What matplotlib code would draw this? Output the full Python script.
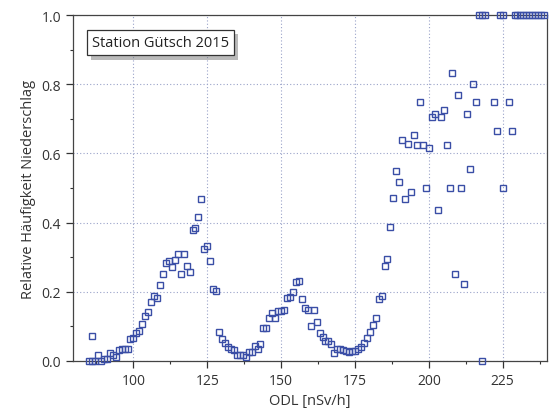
#!/usr/bin/env python
"""Relative precipitation frequency vs. ambient dose rate, station Gütsch 2015."""

import matplotlib

matplotlib.use("Agg")
import matplotlib.pyplot as plt
import matplotlib.patheffects as pe
from matplotlib.ticker import MultipleLocator

# ODL bins [nSv/h] and relative frequency of precipitation
odl = [
    85, 86, 86, 87, 88, 89, 90, 91, 92, 93, 94, 95, 96, 97, 98, 99,
    100, 101, 102, 103, 104, 105, 106, 107, 108, 109, 110, 111, 112, 113, 114,
    115, 116, 117, 118, 119, 120, 121, 122, 123, 124, 125, 126, 127, 128, 129,
    130, 131, 132, 133, 134, 135, 136, 137, 138, 139, 140, 141, 142, 143, 144,
    145, 146, 147, 148, 149, 150, 151, 152, 153, 154, 155, 156, 157, 158, 159,
    160, 161, 162, 163, 164, 165, 166, 167, 168, 169, 170, 171, 172, 173, 174,
    175, 176, 177, 178, 179, 180, 181, 182, 183, 184, 185, 186, 187, 188, 189,
    190, 191, 192, 193, 194, 195, 196, 197, 198, 199, 200, 201, 202, 203, 204,
    205, 206, 207, 208, 209, 210, 211, 212, 213, 214, 215, 216, 217, 218, 218,
    219, 222, 223, 224, 225, 225, 227, 228, 229, 230, 231, 232, 233, 234, 235,
    236, 237, 238, 239,
]
freq = [
    0.000, 0.073, 0.000, 0.000, 0.017, 0.000, 0.005, 0.006, 0.023, 0.018, 0.011,
    0.031, 0.034, 0.035, 0.033, 0.064,
    0.065, 0.080, 0.087, 0.106, 0.130, 0.141, 0.171, 0.189, 0.183, 0.218, 0.250,
    0.284, 0.290, 0.271, 0.293,
    0.309, 0.251, 0.309, 0.275, 0.258, 0.378, 0.385, 0.417, 0.469, 0.324, 0.331,
    0.290, 0.208, 0.203, 0.084,
    0.064, 0.052, 0.040, 0.035, 0.032, 0.016, 0.017, 0.017, 0.012, 0.027, 0.027,
    0.042, 0.033, 0.049, 0.094,
    0.095, 0.125, 0.137, 0.124, 0.145, 0.145, 0.147, 0.183, 0.185, 0.200, 0.228,
    0.230, 0.178, 0.153, 0.148,
    0.100, 0.148, 0.113, 0.081, 0.068, 0.057, 0.057, 0.050, 0.022, 0.034, 0.033,
    0.031, 0.028, 0.027, 0.028,
    0.028, 0.035, 0.040, 0.052, 0.066, 0.083, 0.105, 0.124, 0.179, 0.189, 0.274,
    0.295, 0.387, 0.471, 0.548,
    0.516, 0.639, 0.468, 0.627, 0.488, 0.653, 0.624, 0.749, 0.624, 0.499, 0.615,
    0.705, 0.715, 0.436, 0.705,
    0.726, 0.624, 0.499, 0.832, 0.250, 0.768, 0.499, 0.222, 0.713, 0.555, 0.800,
    0.749, 1.000, 1.000, 0.000,
    1.000, 0.749, 0.666, 1.000, 1.000, 0.499, 0.749, 0.666, 1.000, 1.000, 1.000,
    1.000, 1.000, 1.000, 1.000,
    1.000, 1.000, 1.000, 1.000,
]

plt.rcParams["font.family"] = ["Open Sans", "DejaVu Sans"]

fig = plt.figure(figsize=(5.52, 4.14), dpi=100)
ax = fig.add_axes([0.132, 0.126, 0.859, 0.835])

ax.plot(
    odl, freq, linestyle="none", marker="s", markersize=3.8,
    markerfacecolor="none", markeredgecolor="#3a4ea6", markeredgewidth=1.0,
    clip_on=False, zorder=3,
)

ax.set_xlim(79.5, 240)
ax.set_ylim(0.0, 1.0)
ax.xaxis.set_major_locator(MultipleLocator(25))
ax.xaxis.set_minor_locator(MultipleLocator(12.5))
ax.yaxis.set_major_locator(MultipleLocator(0.2))
ax.yaxis.set_minor_locator(MultipleLocator(0.1))
ax.yaxis.set_major_formatter(matplotlib.ticker.FormatStrFormatter("%.1f"))
ax.tick_params(which="major", direction="out", length=5, width=0.9, labelsize=10, colors="#333333")
ax.tick_params(which="minor", direction="out", length=2.5, width=0.8, colors="#333333")
for spine in ax.spines.values():
    spine.set_color("#444444")
    spine.set_linewidth(0.9)

ax.grid(True, which="major", color="#9aa3c9", linestyle=(0, (1, 2)), linewidth=0.8)
ax.set_axisbelow(True)

ax.set_xlabel("ODL [nSv/h]", fontsize=10.5, color="#333333")
ax.set_ylabel("Relative Häufigkeit Niederschlag", fontsize=10.5, color="#333333")

label = ax.text(
    0.04, 0.92, "Station Gütsch 2015", transform=ax.transAxes,
    fontsize=10.5, color="#222222", va="center", ha="left",
    bbox=dict(boxstyle="square,pad=0.35", facecolor="white", edgecolor="#333333", linewidth=0.9),
    zorder=5,
)
label.get_bbox_patch().set_path_effects(
    [pe.SimplePatchShadow(offset=(3, -3), shadow_rgbFace="#777777", alpha=0.5), pe.Normal()]
)

fig.savefig("out.png", dpi=100)
